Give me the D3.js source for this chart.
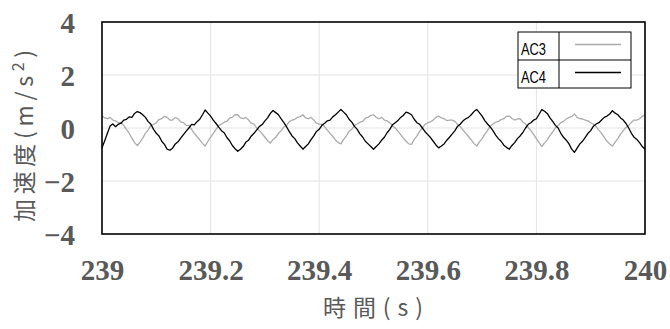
<!DOCTYPE html>
<html><head><meta charset="utf-8">
<script src="https://cdn.jsdelivr.net/npm/d3@7"></script>
<style>body{margin:0;background:#fff}svg{display:block}</style>
</head><body>
<svg id="chart" width="670" height="329"></svg>
<script>
const tStart = 239, tStep = 0.005;
const ac3 = [0.45,0.38,0.35,0.4,0.3,0.27,0.2,0.2,0.1,-0.05,
-0.2,-0.38,-0.55,-0.66,-0.53,-0.38,-0.2,-0.07,0.1,0.13,
0.2,0.32,0.35,0.44,0.4,0.3,0.3,0.4,0.35,0.23,
0.2,0.1,0.1,-0.05,-0.2,-0.32,-0.45,-0.58,-0.68,-0.5,
-0.35,-0.2,-0.05,0.1,0.15,0.22,0.25,0.37,0.4,0.5,
0.5,0.38,0.35,0.4,0.3,0.18,0.15,0.0,-0.1,-0.22,
-0.35,-0.48,-0.57,-0.43,-0.35,-0.2,-0.1,0.04,0.1,0.24,
0.3,0.33,0.4,0.43,0.5,0.38,0.35,0.4,0.3,0.18,
0.15,0.14,0.05,-0.08,-0.2,-0.32,-0.45,-0.55,-0.6,-0.43,
-0.3,-0.13,-0.05,0.1,0.15,0.22,0.25,0.37,0.4,0.47,
0.5,0.4,0.35,0.4,0.3,0.27,0.2,0.08,0.0,-0.12,
-0.25,-0.38,-0.5,-0.6,-0.62,-0.43,-0.3,-0.13,0.0,0.14,
0.2,0.23,0.3,0.4,0.45,0.38,0.35,0.28,0.3,0.3,
0.25,0.13,0.05,-0.08,-0.2,-0.32,-0.45,-0.58,-0.68,-0.53,
-0.4,-0.23,-0.1,0.07,0.15,0.22,0.25,0.32,0.35,0.44,
0.45,0.36,0.3,0.34,0.35,0.23,0.15,0.02,-0.1,-0.25,
-0.4,-0.55,-0.7,-0.56,-0.45,-0.28,-0.15,0.0,0.1,0.2,
0.25,0.34,0.4,0.43,0.53,0.4,0.35,0.34,0.3,0.27,
0.2,0.14,0.05,-0.08,-0.2,-0.35,-0.5,-0.6,-0.68,-0.53,
-0.4,-0.23,-0.1,0.02,0.1,0.22,0.3,0.3,0.35,0.44,
0.5];
const ac4 = [-0.75,-0.48,-0.2,0.08,0.15,0.05,0.14,0.18,0.3,0.33,
0.42,0.4,0.55,0.62,0.58,0.5,0.4,0.24,0.14,-0.05,
-0.2,-0.3,-0.5,-0.62,-0.8,-0.84,-0.76,-0.6,-0.52,-0.38,
-0.25,-0.12,0.0,0.14,0.12,0.24,0.33,0.5,0.68,0.56,
0.45,0.3,0.17,0.03,-0.1,-0.18,-0.36,-0.48,-0.66,-0.78,
-0.88,-0.8,-0.7,-0.53,-0.46,-0.3,-0.2,-0.07,0.06,0.13,
0.27,0.38,0.55,0.66,0.58,0.5,0.34,0.2,0.04,-0.14,
-0.3,-0.4,-0.56,-0.68,-0.8,-0.7,-0.6,-0.44,-0.3,-0.13,
-0.05,0.1,0.18,0.27,0.3,0.42,0.5,0.6,0.7,0.6,
0.5,0.33,0.22,0.06,-0.05,-0.22,-0.34,-0.5,-0.6,-0.7,
-0.8,-0.7,-0.6,-0.46,-0.35,-0.18,-0.05,0.12,0.2,0.28,
0.4,0.48,0.6,0.56,0.5,0.33,0.2,0.14,0.0,-0.14,
-0.25,-0.36,-0.5,-0.64,-0.75,-0.68,-0.6,-0.46,-0.35,-0.22,
-0.1,0.07,0.15,0.27,0.35,0.4,0.5,0.62,0.7,0.58,
0.45,0.28,0.15,0.04,-0.1,-0.27,-0.4,-0.5,-0.65,-0.73,
-0.8,-0.66,-0.55,-0.4,-0.3,-0.17,0.0,0.14,0.2,0.3,
0.35,0.52,0.7,0.63,0.55,0.38,0.25,0.1,0.0,-0.2,
-0.35,-0.46,-0.6,-0.8,-0.92,-0.76,-0.6,-0.5,-0.35,-0.2,
-0.1,0.07,0.15,0.2,0.3,0.4,0.45,0.53,0.65,0.56,
0.5,0.38,0.3,0.17,0.0,-0.2,-0.35,-0.43,-0.55,-0.7,
-0.8];
const seriesNames = ["AC3","AC4"];
const seriesColors = ["#ababab","#000000"];
const xTicks = [239,239.2,239.4,239.6,239.8,240];
const xTickLabels = ["239","239.2","239.4","239.6","239.8","240"];
const yTicks = [-4,-2,0,2,4];
const xTitle = "時間(s)";
const yTitleMain = "加速度(m/s", yTitleSup = "2", yTitleEnd = ")";

const svg = d3.select("#chart");
const L=102,R=645,T=22,B=234;
const x = d3.scaleLinear().domain([239,240]).range([L,R]);
const y = d3.scaleLinear().domain([-4,4]).range([B,T]);

// gridlines
svg.append("g").selectAll("line").data(yTicks.filter(v=>v>-4&&v<4)).join("line")
  .attr("x1",L).attr("x2",R).attr("y1",d=>y(d)).attr("y2",d=>y(d))
  .attr("stroke","#e3e3e3").attr("stroke-width",1);
svg.append("g").selectAll("line").data(xTicks.filter(v=>v>239&&v<240)).join("line")
  .attr("y1",T).attr("y2",B).attr("x1",d=>x(d)).attr("x2",d=>x(d))
  .attr("stroke","#e3e3e3").attr("stroke-width",1);

// series
const series = [ac3, ac4];
const line = d3.line().x((d,i)=>x(tStart+i*tStep)).y(d=>y(d));
series.forEach((s,k)=>{
  svg.append("path").datum(s).attr("d",line).attr("fill","none")
    .attr("stroke",seriesColors[k]).attr("stroke-width",1.3).attr("stroke-linejoin","round");
});

// frame
svg.append("rect").attr("x",L).attr("y",T).attr("width",R-L).attr("height",B-T)
  .attr("fill","none").attr("stroke","#000").attr("stroke-width",1.6);

// axes
const xAxis = d3.axisBottom(x).tickValues(xTicks).tickFormat((d,i)=>xTickLabels[i]).tickSize(0).tickPadding(0);
const gx = svg.append("g").attr("transform",`translate(0,${B})`).call(xAxis);
gx.select(".domain").remove();
gx.attr("font-family","'Liberation Serif','Times New Roman',serif").attr("font-size",29);
gx.selectAll("text").attr("dy",null).attr("y",46).attr("font-weight","bold").attr("fill","#595959");
const yAxis = d3.axisLeft(y).tickValues(yTicks).tickSize(0).tickPadding(0);
const gy = svg.append("g").attr("transform",`translate(${L},0)`).call(yAxis);
gy.select(".domain").remove();
gy.attr("font-family","'Liberation Serif','Times New Roman',serif").attr("font-size",29);
gy.selectAll("text").attr("x",-27).attr("dy","0.35em").attr("font-weight","bold").attr("fill","#595959");

// titles
svg.append("text").attr("x",323).attr("y",316).attr("font-family","'Noto Sans CJK JP',sans-serif")
  .attr("font-size",23).attr("fill","#595959").attr("textLength",100).attr("lengthAdjust","spacing").text(xTitle);
const yt = svg.append("text").attr("transform","translate(33,222) rotate(-90)")
  .attr("font-family","'Noto Sans CJK JP',sans-serif").attr("font-size",23).attr("fill","#595959")
  .attr("textLength",172).attr("lengthAdjust","spacing");
yt.append("tspan").text(yTitleMain);
yt.append("tspan").attr("font-size",16).attr("dy",-9).text(yTitleSup);
yt.append("tspan").attr("dy",9).text(yTitleEnd);

// legend
const lg = svg.append("g");
const lx0=518,lx1=559,lx2=631,ly0=32,rowH=28;
lg.append("rect").attr("x",lx0).attr("y",ly0).attr("width",lx2-lx0).attr("height",rowH*2)
  .attr("fill","#fff").attr("stroke","#000").attr("stroke-width",1);
lg.append("line").attr("x1",lx1).attr("x2",lx1).attr("y1",ly0).attr("y2",ly0+rowH*2).attr("stroke","#000");
lg.append("line").attr("x1",lx0).attr("x2",lx2).attr("y1",ly0+rowH).attr("y2",ly0+rowH).attr("stroke","#000");
seriesNames.forEach((n,k)=>{
  lg.append("text").attr("x",lx0+3).attr("y",ly0+rowH*k+23)
    .attr("font-family","'Liberation Sans',Arial,sans-serif").attr("font-size",16)
    .attr("textLength",25).attr("lengthAdjust","spacingAndGlyphs")
    .attr("fill","#000").text(n);
  lg.append("line").attr("x1",575).attr("x2",621).attr("y1",ly0+rowH*k+12.5).attr("y2",ly0+rowH*k+12.5)
    .attr("stroke",seriesColors[k]).attr("stroke-width",1.5);
});
</script>
</body></html>
